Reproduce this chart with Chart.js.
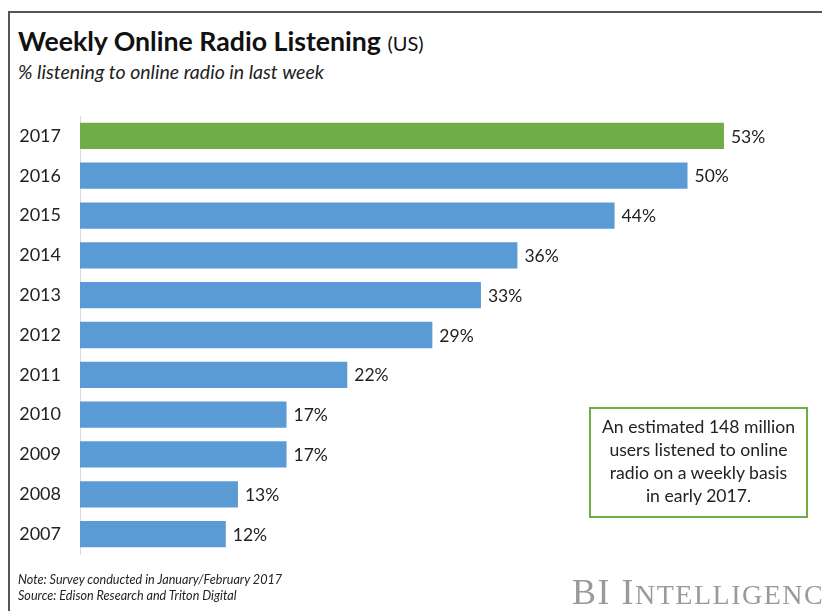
<!DOCTYPE html>
<html>
<head>
<meta charset="utf-8">
<script src="https://cdn.jsdelivr.net/npm/chart.js@4"></script>
<style>
  body { margin: 0; background: #fff; font-family: Lato, "Open Sans", sans-serif; }
  #wrap { position: relative; width: 822px; height: 611px; overflow: hidden; }
  #frame { position: absolute; left: 8px; top: 11px; width: 830px; height: 620px;
           border-top: 2px solid #555; border-left: 2px solid #555; }
  #title { position: absolute; left: 18px; top: 25px; font-size: 26.7px; font-weight: bold; color: #111; white-space: nowrap; }
  #title span { font-weight: normal; font-size: 20px; }
  #subtitle { position: absolute; left: 18px; top: 60px; font-size: 19.5px; font-style: italic; color: #222; }
  #note { position: absolute; left: 18px; top: 572px; font-size: 12.6px; font-style: italic; color: #222; line-height: 16px; }
  #box { position: absolute; left: 589px; top: 407px; width: 219px; height: 111px; border: 2px solid #70ad47;
         box-sizing: border-box; text-align: center; font-size: 17.6px; line-height: 23px; color: #222; padding-top: 6px; }
  #logo { position: absolute; left: 572px; top: 571px; font-family: "Liberation Serif", "DejaVu Serif", serif;
          color: #9a9a9a; font-size: 36px; white-space: nowrap; letter-spacing: 1.5px; }
  #logo small { font-size: 28px; }
  canvas { position: absolute; left: 0; top: 0; }
</style>
</head>
<body>
<div id="wrap">
  <div id="frame"></div>
  <div id="title">Weekly Online Radio Listening <span>(US)</span></div>
  <div id="subtitle">% listening to online radio in last week</div>
  <canvas id="chart" width="822" height="611"></canvas>
  <div id="box">An estimated 148 million<br>users listened to online<br>radio on a weekly basis<br>in early 2017.</div>
  <div id="note">Note: Survey conducted in January/February 2017<br>Source: Edison Research and Triton Digital</div>
  <div id="logo">BI I<small>NTELLIGENCE</small></div>
</div>
<script>
const years = ['2017', '2016', '2015', '2014', '2013', '2012', '2011', '2010', '2009', '2008', '2007'];
const listening = [53, 50, 44, 36, 33, 29, 22, 17, 17, 13, 12];
const barColors = years.map(y => y === '2017' ? '#70ad47' : '#5b9bd5');

const valueLabels = {
    id: 'valueLabels',
    afterDatasetsDraw(chart) {
        const ctx = chart.ctx;
        const meta = chart.getDatasetMeta(0);
        ctx.save();
        ctx.font = '17.5px Lato, "Open Sans", sans-serif';
        ctx.fillStyle = '#222';
        ctx.textBaseline = 'middle';
        meta.data.forEach((bar, i) => {
            ctx.fillText(listening[i] + '%', bar.x + 7, bar.y + 1);
        });
        ctx.restore();
    }
};

new Chart(document.getElementById('chart'), {
    type: 'bar',
    data: {
        labels: years,
        datasets: [{
            data: listening,
            backgroundColor: barColors,
            borderWidth: 0,
            categoryPercentage: 1,
            barPercentage: 0.66
        }]
    },
    options: {
        indexAxis: 'y',
        responsive: false,
        animation: false,
        layout: { padding: { top: 116, bottom: 57, left: 0, right: 13 } },
        plugins: { legend: { display: false }, tooltip: { enabled: false } },
        scales: {
            x: { display: false, min: 0, max: 60 },
            y: {
                grid: { display: false },
                border: { display: true, color: '#d9d9d9', width: 1 },
                ticks: { color: '#222', font: { size: 18, family: 'Lato, "Open Sans", sans-serif' }, padding: 11 },
                afterFit(scale) { scale.width = 80; }
            }
        }
    },
    plugins: [valueLabels]
});
</script>
</body>
</html>
